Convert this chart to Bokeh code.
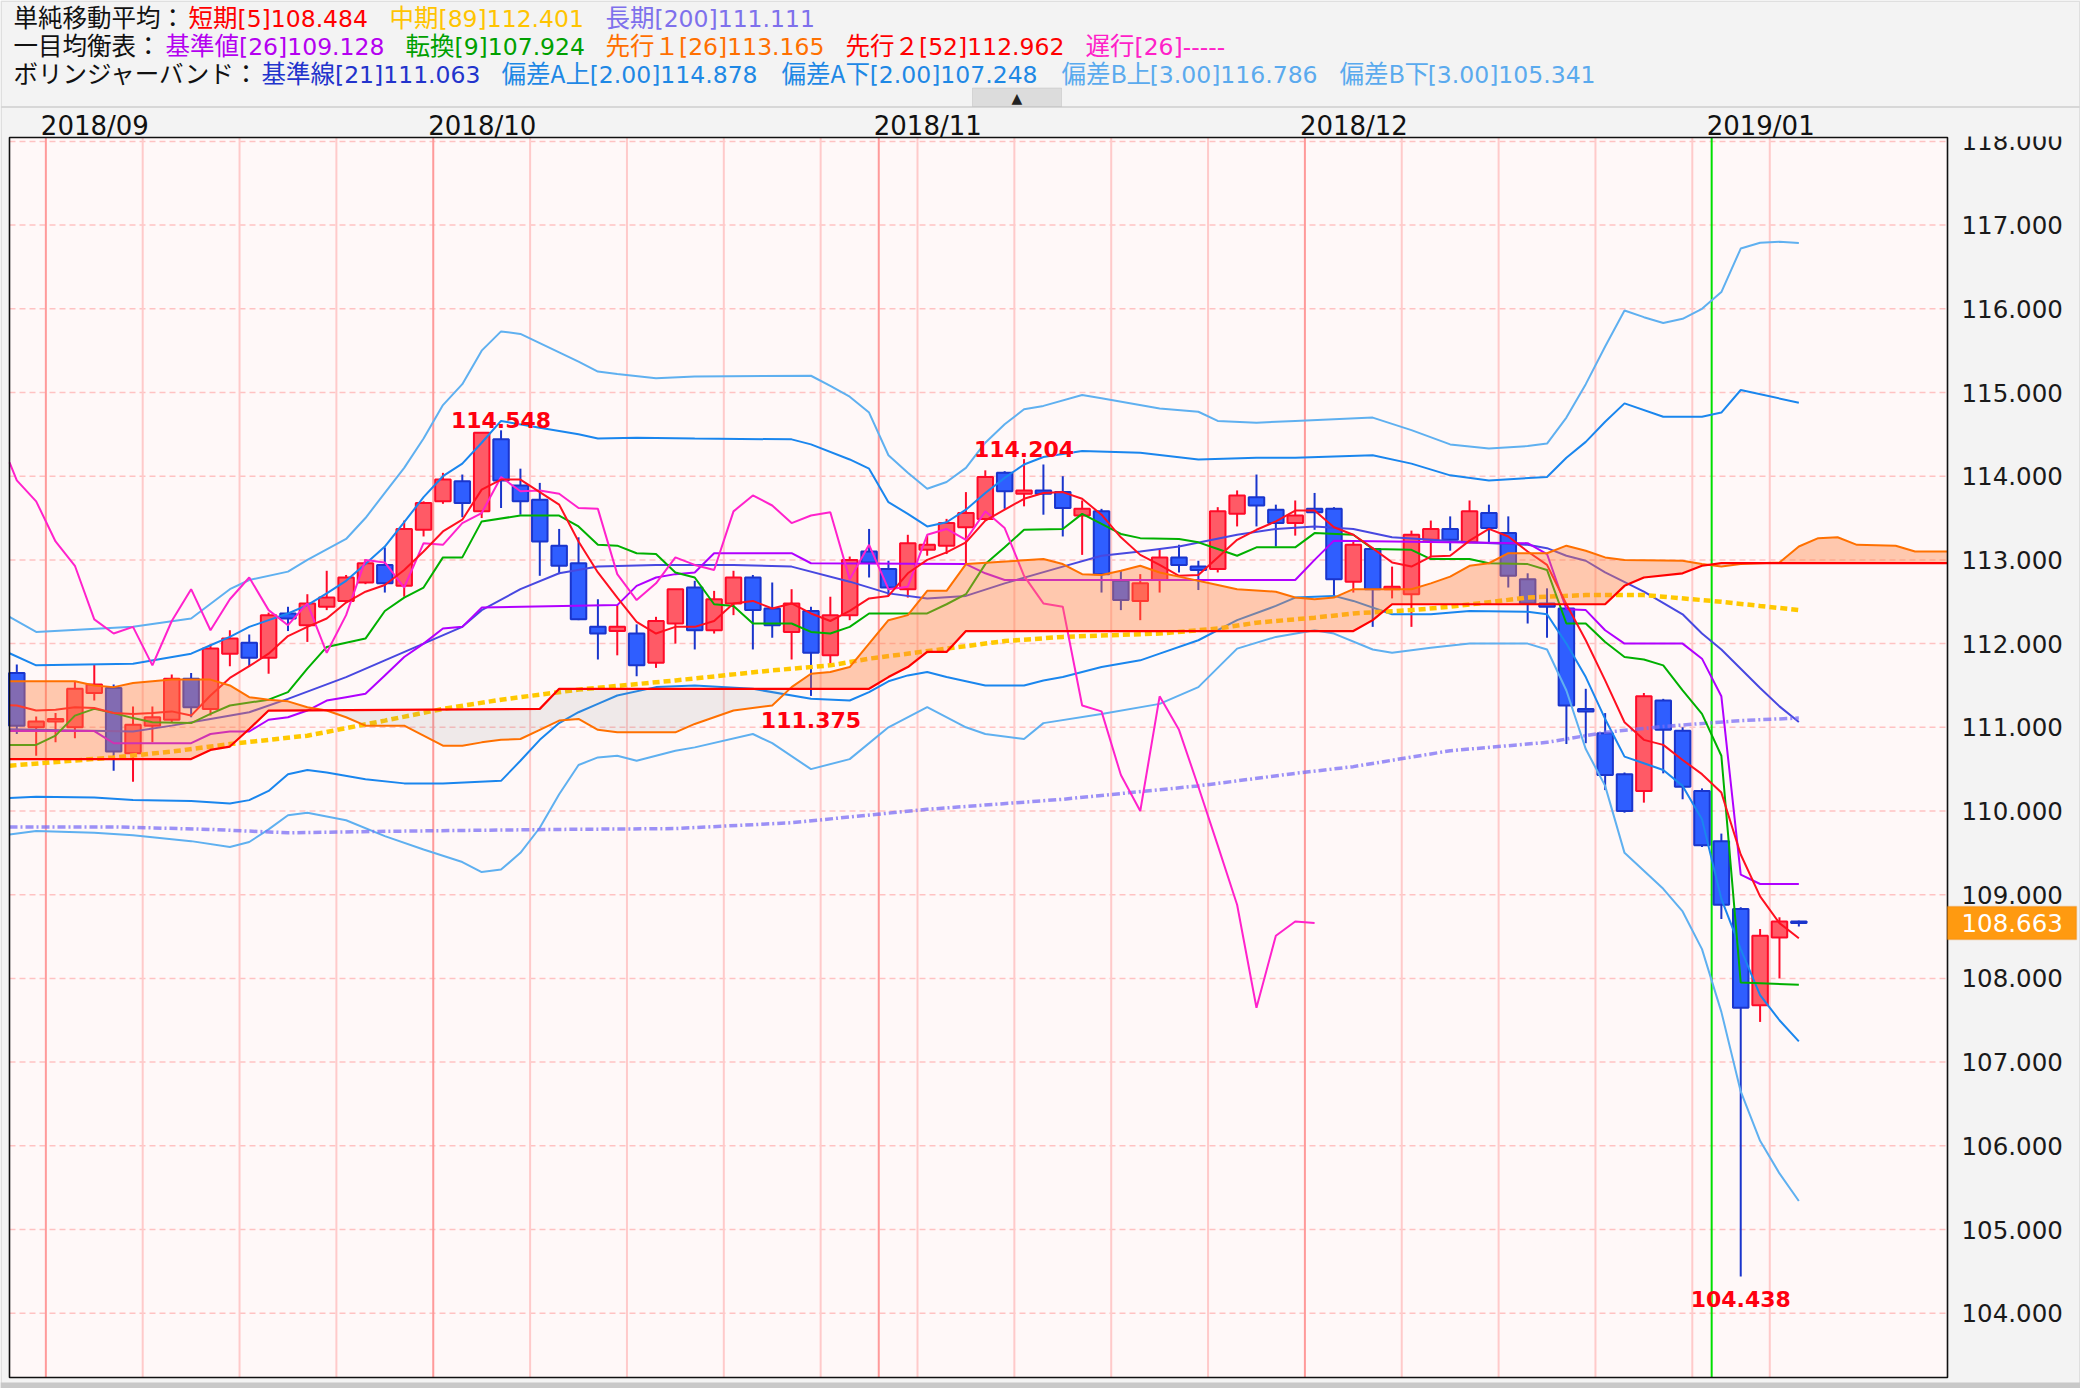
import numpy as np
from bokeh.plotting import figure
from bokeh.models import Range1d, Label, BoxAnnotation
from bokeh.embed import file_html
from bokeh.resources import INLINE

# ---------------- data ----------------
# candle index 0 = 2018/08/30 ... 92 = 2019/01/08
opens = [111.65, 111.00, 111.07, 111.00, 111.41, 111.47, 110.69, 111.02, 111.09, 111.58,
         111.22, 111.88, 112.01, 111.83, 112.36, 112.22, 112.44, 112.51, 112.73, 112.94,
         112.69, 113.36, 113.70, 113.94, 113.58, 114.44, 113.89, 113.72, 113.17, 112.96,
         112.20, 112.15, 112.12, 111.77, 112.24, 112.67, 112.16, 112.48, 112.79, 112.42,
         112.14, 112.39, 111.86, 112.34, 113.10, 112.89, 112.65, 113.12, 113.17, 113.39,
         113.49, 114.04, 113.79, 113.83, 113.81, 113.53, 113.58, 112.75, 112.51, 112.76,
         113.03, 112.92, 112.89, 113.55, 113.75, 113.60, 113.44, 113.61, 113.61, 112.74,
         113.13, 112.65, 112.59, 113.24, 113.37, 113.21, 113.56, 113.32, 112.77, 112.48,
         112.42, 111.22, 110.93, 110.44, 110.24, 111.32, 110.96, 110.24, 109.64, 108.83,
         107.68, 108.49, 108.68]
highs = [111.75, 111.13, 111.17, 111.54, 111.75, 111.51, 111.25, 111.25, 111.63, 111.65,
         111.99, 112.16, 112.11, 112.37, 112.44, 112.59, 112.87, 112.82, 113.01, 113.15,
         113.47, 113.70, 114.04, 114.02, 114.52, 114.548, 114.09, 113.92, 113.37, 113.27,
         112.53, 112.46, 112.23, 112.32, 112.65, 112.75, 112.63, 112.87, 112.82, 112.73,
         112.65, 112.44, 112.56, 113.04, 113.37, 112.99, 113.30, 113.29, 113.49, 113.81,
         114.07, 114.06, 114.204, 114.14, 114.00, 113.71, 113.61, 112.87, 112.83, 113.13,
         113.18, 112.99, 113.63, 113.83, 114.02, 113.66, 113.71, 113.80, 113.63, 113.23,
         113.15, 112.92, 113.35, 113.47, 113.52, 113.71, 113.66, 113.52, 112.84, 112.66,
         112.43, 111.46, 111.17, 110.46, 111.41, 111.34, 111.00, 110.27, 109.73, 108.85,
         108.59, 108.73, 108.69]
lows = [110.92, 110.66, 110.82, 110.87, 111.32, 110.48, 110.35, 110.82, 111.05, 111.12,
        111.14, 111.73, 111.73, 111.64, 112.15, 112.02, 112.40, 112.50, 112.71, 112.61,
        112.56, 113.28, 113.67, 113.51, 113.50, 113.62, 113.54, 112.81, 112.83, 112.28,
        111.81, 111.86, 111.61, 111.71, 112.00, 111.93, 112.12, 112.34, 111.93, 112.07,
        111.81, 111.375, 111.76, 112.28, 112.79, 112.57, 112.55, 113.05, 113.07, 112.95,
        113.47, 113.61, 113.64, 113.54, 113.28, 113.06, 112.61, 112.40, 112.28, 112.61,
        112.85, 112.64, 112.85, 113.40, 113.40, 113.16, 113.29, 113.36, 112.55, 112.61,
        112.20, 112.54, 112.20, 113.03, 113.11, 113.20, 113.21, 112.67, 112.24, 112.07,
        110.80, 110.81, 110.25, 109.98, 110.10, 110.45, 110.14, 109.57, 108.71, 104.438,
        107.48, 108.00, 108.62]
closes = [111.02, 111.07, 111.10, 111.46, 111.51, 110.71, 111.03, 111.12, 111.58, 111.24,
          111.94, 112.06, 111.83, 112.34, 112.30, 112.48, 112.55, 112.79, 112.96, 112.72,
          113.37, 113.68, 113.96, 113.68, 114.52, 113.95, 113.70, 113.22, 112.93, 112.29,
          112.12, 112.20, 111.74, 112.27, 112.65, 112.16, 112.53, 112.79, 112.40, 112.22,
          112.48, 111.89, 112.34, 113.00, 112.97, 112.67, 113.20, 113.18, 113.44, 113.56,
          113.99, 113.82, 113.83, 113.79, 113.62, 113.61, 112.83, 112.52, 112.72, 113.03,
          112.94, 112.88, 113.58, 113.77, 113.65, 113.44, 113.53, 113.57, 112.77, 113.18,
          112.65, 112.68, 113.30, 113.37, 113.24, 113.58, 113.38, 112.81, 112.48, 112.44,
          111.26, 111.19, 110.43, 110.00, 111.37, 110.97, 110.29, 109.59, 108.88, 107.65,
          108.51, 108.68, 108.663]

# 5-day SMA, values for candle index -1 .. 92
sma5 = [111.27, 111.26, 111.20, 111.21, 111.24, 111.23, 111.17, 111.16, 111.17, 111.19,
        111.14, 111.38, 111.59, 111.73, 111.88, 112.09, 112.20, 112.30, 112.49, 112.62,
        112.70, 112.88, 113.10, 113.34, 113.48, 113.84, 113.96, 113.96, 113.81, 113.66,
        113.22, 112.85, 112.55, 112.26, 112.12, 112.20, 112.20, 112.27, 112.48, 112.51,
        112.42, 112.48, 112.36, 112.27, 112.39, 112.54, 112.57, 112.84, 113.00, 113.09,
        113.21, 113.47, 113.60, 113.73, 113.80, 113.81, 113.73, 113.54, 113.27, 113.06,
        112.94, 112.81, 112.82, 113.03, 113.24, 113.36, 113.46, 113.59, 113.59, 113.39,
        113.30, 113.14, 112.97, 112.92, 113.04, 113.05, 113.23, 113.37, 113.28, 113.10,
        112.94, 112.47, 112.04, 111.56, 111.06, 110.85, 110.79, 110.61, 110.44, 110.22,
        109.48, 108.98, 108.66, 108.48]

# polyline vertices (candle index, price)
sma89 = [(-1, 110.53), (5, 110.64), (8, 110.71), (11, 110.80), (15, 110.90), (19, 111.08), (22, 111.22),
         (25, 111.33), (29, 111.45), (34, 111.56), (39, 111.68), (42, 111.74), (44, 111.82), (48, 111.94),
         (51, 112.03), (54, 112.08), (59, 112.12), (62, 112.18), (64, 112.25), (67, 112.31), (69, 112.36),
         (72, 112.40), (74, 112.44), (78, 112.55), (81, 112.58), (84, 112.58), (88, 112.50), (90, 112.45),
         (92, 112.401)]
sma200 = [(-1, 109.81), (5, 109.81), (10, 109.78), (14, 109.74), (20, 109.76), (28, 109.78), (34, 109.79),
          (40, 109.86), (47, 110.02), (54, 110.14), (61, 110.30), (66, 110.45), (69, 110.53), (74, 110.72),
          (79, 110.82), (82, 110.94), (85, 111.01), (89, 111.08), (92, 111.111)]
kijun = [(-1, 110.955), (4, 110.955), (5, 110.81), (9, 110.81), (10, 110.92), (11, 110.95), (12, 110.95),
         (13, 111.09), (14, 111.12), (15, 111.20), (16, 111.32), (17, 111.36), (18, 111.40), (19, 111.62),
         (20, 111.84), (21, 112.00), (22, 112.18), (23, 112.20), (24, 112.43), (31, 112.46), (32, 112.69),
         (33, 112.79), (34, 112.83), (35, 112.85), (36, 113.08), (40, 113.08), (41, 112.96), (49, 112.95),
         (50, 112.84), (51, 112.76), (66, 112.76), (67, 113.00), (68, 113.23), (78, 113.20), (79, 113.07),
         (80, 112.41), (81, 112.40), (82, 112.16), (83, 112.00), (86, 112.00), (87, 111.82), (88, 111.37),
         (89, 109.24), (90, 109.128), (92, 109.128)]
tenkan = [(-1, 110.79), (1, 110.79), (2, 110.90), (3, 111.14), (4, 111.22), (5, 111.17), (6, 111.11),
          (7, 111.06), (9, 111.05), (10, 111.16), (11, 111.26), (13, 111.33), (14, 111.42), (15, 111.70),
          (16, 111.96), (18, 112.06), (19, 112.39), (20, 112.55), (21, 112.67), (22, 113.03), (23, 113.03),
          (24, 113.46), (26, 113.53), (28, 113.53), (29, 113.40), (30, 113.18), (31, 113.17), (32, 113.08),
          (33, 113.07), (34, 112.85), (35, 112.79), (36, 112.47), (37, 112.45), (38, 112.24), (40, 112.24),
          (41, 112.14), (42, 112.12), (43, 112.20), (44, 112.36), (47, 112.36), (48, 112.47), (49, 112.59),
          (50, 112.95), (51, 113.15), (52, 113.36), (54, 113.37), (55, 113.55), (56, 113.43), (57, 113.31),
          (58, 113.26), (60, 113.25), (61, 113.21), (62, 113.13), (63, 113.05), (64, 113.15), (66, 113.15),
          (67, 113.32), (69, 113.30), (70, 113.13), (72, 113.12), (73, 113.01), (75, 113.01), (76, 112.96),
          (78, 112.95), (79, 112.88), (80, 112.24), (81, 112.24), (82, 112.02), (83, 111.84), (84, 111.81),
          (85, 111.74), (86, 111.44), (87, 111.16), (88, 110.66), (89, 107.95), (92, 107.924)]
senkou_a = [(-1, 111.55), (3, 111.55), (4, 111.50), (5, 111.48), (6, 111.53), (8, 111.57), (10, 111.57),
            (11, 111.50), (12, 111.36), (13, 111.33), (14, 111.31), (15, 111.24), (16, 111.20), (17, 111.12),
            (18, 111.02), (20, 111.02), (21, 110.90), (22, 110.78), (23, 110.78), (24, 110.82), (25, 110.85),
            (26, 110.86), (27, 110.97), (28, 111.08), (29, 111.10), (30, 110.97), (31, 110.94), (34, 110.94),
            (35, 111.04), (36, 111.12), (37, 111.20), (39, 111.26), (40, 111.48), (41, 111.64), (42, 111.66),
            (43, 111.72), (44, 112.00), (45, 112.28), (46, 112.34), (47, 112.63), (48, 112.63), (49, 112.95),
            (53, 113.01), (54, 112.95), (55, 112.83), (56, 112.82), (57, 112.87), (58, 112.93), (59, 112.85),
            (60, 112.80), (62, 112.70), (63, 112.65), (65, 112.62), (66, 112.55), (67, 112.53), (68, 112.55),
            (69, 112.65), (72, 112.65), (73, 112.72), (74, 112.80), (75, 112.93), (76, 112.96), (77, 113.08),
            (79, 113.08), (80, 113.17), (81, 113.11), (82, 113.03), (83, 113.00), (86, 112.99), (87, 112.95),
            (88, 112.92), (89, 112.95), (91, 112.97), (92, 113.16), (93, 113.26), (94, 113.27), (95, 113.18),
            (97, 113.17), (98, 113.10), (100, 113.10)]
senkou_b = [(-1, 110.62), (9, 110.62), (10, 110.73), (11, 110.77), (12, 110.98), (13, 111.20), (27, 111.22),
            (28, 111.46), (44, 111.46), (45, 111.60), (46, 111.72), (47, 111.90), (48, 111.90), (49, 112.15),
            (69, 112.15), (70, 112.28), (71, 112.47), (82, 112.47), (83, 112.69), (84, 112.79), (86, 112.84),
            (87, 112.93), (88, 112.962), (100, 112.962)]
bb_mid = [(-1, 110.98), (6, 110.95), (8, 111.02), (10, 111.10), (12, 111.18), (14, 111.34), (17, 111.60),
          (19, 111.80), (21, 112.00), (23, 112.20), (24, 112.40), (26, 112.65), (28, 112.84), (30, 112.92),
          (33, 112.94), (37, 112.94), (40, 112.92), (43, 112.74), (45, 112.60), (47, 112.54), (49, 112.57),
          (51, 112.72), (54, 112.92), (56, 113.05), (58, 113.10), (60, 113.16), (63, 113.30), (65, 113.37),
          (67, 113.40), (69, 113.37), (71, 113.27), (75, 113.21), (78, 113.18), (79, 113.14), (80, 113.05),
          (81, 112.99), (82, 112.85), (84, 112.62), (86, 112.35), (87, 112.12), (88, 111.93), (89, 111.70),
          (90, 111.47), (91, 111.25), (92, 111.063)]
bb_up2 = [(-1, 111.95), (1, 111.74), (6, 111.76), (9, 111.88), (10, 111.98), (11, 112.08), (12, 112.20),
          (13, 112.28), (14, 112.36), (15, 112.46), (16, 112.60), (17, 112.75), (18, 112.95), (19, 113.16),
          (20, 113.45), (21, 113.75), (22, 114.00), (23, 114.15), (24, 114.40), (25, 114.66), (27, 114.58),
          (29, 114.50), (30, 114.45), (32, 114.46), (35, 114.45), (40, 114.44), (41, 114.38), (43, 114.20),
          (44, 114.09), (45, 113.69), (46, 113.55), (47, 113.40), (48, 113.45), (49, 113.60), (50, 113.80),
          (51, 113.98), (52, 114.14), (53, 114.23), (55, 114.30), (58, 114.28), (61, 114.20), (64, 114.22),
          (66, 114.22), (70, 114.25), (72, 114.15), (74, 114.01), (76, 113.95), (79, 113.99), (80, 114.22),
          (81, 114.41), (82, 114.65), (83, 114.87), (85, 114.71), (87, 114.71), (88, 114.76), (89, 115.03),
          (92, 114.878)]
bb_lo2 = [(-1, 110.15), (1, 110.17), (4, 110.16), (6, 110.13), (9, 110.12), (11, 110.09), (12, 110.13),
          (13, 110.24), (14, 110.44), (15, 110.49), (16, 110.46), (18, 110.38), (20, 110.33), (22, 110.33),
          (25, 110.36), (26, 110.60), (27, 110.85), (28, 111.05), (29, 111.18), (30, 111.28), (31, 111.38),
          (33, 111.48), (35, 111.50), (38, 111.46), (41, 111.34), (43, 111.32), (44, 111.42), (45, 111.55),
          (46, 111.62), (47, 111.66), (48, 111.60), (49, 111.55), (50, 111.50), (52, 111.50), (53, 111.56),
          (54, 111.60), (56, 111.72), (58, 111.80), (59, 111.88), (61, 112.04), (63, 112.28), (65, 112.45),
          (66, 112.55), (68, 112.57), (69, 112.51), (71, 112.35), (73, 112.35), (75, 112.39), (78, 112.38),
          (79, 112.35), (80, 112.00), (81, 111.60), (82, 111.10), (83, 110.65), (84, 110.57), (85, 110.49),
          (86, 110.30), (87, 109.90), (88, 108.95), (89, 108.35), (90, 107.80), (91, 107.50), (92, 107.248)]
bb_up3 = [(-1, 112.40), (1, 112.14), (6, 112.20), (9, 112.30), (11, 112.65), (12, 112.76), (14, 112.86),
          (15, 113.00), (17, 113.25), (18, 113.50), (19, 113.80), (20, 114.10), (21, 114.45), (22, 114.85),
          (23, 115.10), (24, 115.50), (25, 115.73), (26, 115.70), (28, 115.48), (29, 115.37), (30, 115.25),
          (31, 115.22), (33, 115.17), (35, 115.19), (41, 115.20), (42, 115.08), (43, 114.95), (44, 114.76),
          (45, 114.25), (46, 114.04), (47, 113.85), (48, 113.93), (49, 114.10), (50, 114.40), (51, 114.62),
          (52, 114.80), (53, 114.84), (55, 114.97), (56, 114.93), (59, 114.81), (61, 114.77), (62, 114.66),
          (64, 114.64), (66, 114.66), (70, 114.70), (72, 114.55), (74, 114.38), (76, 114.33), (78, 114.36),
          (79, 114.39), (80, 114.70), (81, 115.10), (82, 115.55), (83, 115.98), (84, 115.90), (85, 115.83),
          (86, 115.88), (87, 116.00), (88, 116.20), (89, 116.72), (90, 116.79), (91, 116.80), (92, 116.786)]
bb_lo3 = [(-1, 109.70), (1, 109.76), (4, 109.74), (6, 109.71), (9, 109.64), (11, 109.57), (12, 109.63),
          (13, 109.78), (14, 109.95), (15, 109.98), (17, 109.89), (19, 109.70), (21, 109.54), (23, 109.39),
          (24, 109.27), (25, 109.30), (26, 109.50), (27, 109.80), (28, 110.20), (29, 110.55), (30, 110.64),
          (31, 110.66), (32, 110.60), (34, 110.72), (35, 110.76), (38, 110.92), (39, 110.81), (41, 110.50),
          (43, 110.62), (45, 111.00), (47, 111.24), (49, 111.00), (50, 110.92), (52, 110.86), (53, 111.05),
          (56, 111.16), (59, 111.28), (61, 111.48), (63, 111.94), (65, 112.08), (67, 112.16), (68, 112.12),
          (70, 111.93), (71, 111.89), (73, 111.95), (75, 112.00), (78, 112.00), (79, 111.93), (80, 111.44),
          (81, 110.74), (82, 110.30), (83, 109.50), (85, 109.07), (86, 108.80), (87, 108.35), (88, 107.60),
          (89, 106.65), (90, 106.06), (91, 105.67), (92, 105.341)]

CHIKOU_SHIFT = 25
week_lines = [6.5, 11.5, 16.5, 26.5, 31.5, 36.5, 41.5, 46.5, 51.5, 56.5, 61.5, 71.5, 76.5, 81.5, 86.5, 90.5]
month_lines = [1.5, 21.5, 44.5, 66.5]
year_line = [87.5]
month_labels = ["2018/09", "2018/10", "2018/11", "2018/12", "2019/01"]
price_ticks = list(range(104, 119))

header_rows = [
    [("単純移動平均：", "#111111"), ("短期[5]108.484", "#ff0000"), ("中期[89]112.401", "#ffc400"),
     ("長期[200]111.111", "#7e70ec")],
    [("一目均衡表：", "#111111"), ("基準値[26]109.128", "#b400f0"), ("転換[9]107.924", "#00a000"),
     ("先行１[26]113.165", "#ff7000"), ("先行２[52]112.962", "#ff0000"), ("遅行[26]-----", "#ff20c8")],
    [("ボリンジャーバンド：", "#111111"), ("基準線[21]111.063", "#2233cc"), ("偏差A上[2.00]114.878", "#1e88e5"),
     ("偏差A下[2.00]107.248", "#1e88e5"), ("偏差B上[3.00]116.786", "#5aaaee"), ("偏差B下[3.00]105.341", "#5aaaee")],
]
header_x = [[13, 188, 389, 605], [13, 165, 405, 605, 845, 1085], [13, 261, 501, 781, 1061, 1339]]
header_y = [18.6, 46.4, 74.3]

# ---------------- layout helpers (reference pixel -> data) ----------------
PITCH, XC0 = 19.37, 16.3
PPU, YREF = 83.7, 224.6
CANVAS_W, CANVAS_H = 2080, 1388


def dx(rx):
    return (rx - XC0) / PITCH


def dy(ry):
    return 117 - (ry - YREF) / PPU


X0, X1 = dx(9), dx(1947)
Y0, Y1 = dy(1377), dy(137)

p = figure(width=CANVAS_W, height=CANVAS_H, output_backend="svg", toolbar_location=None,
           x_range=Range1d(dx(0), dx(CANVAS_W)), y_range=Range1d(dy(CANVAS_H), dy(0)),
           x_axis_location=None, y_axis_location=None,
           min_border=0, min_border_left=0, min_border_right=0, min_border_top=0, min_border_bottom=0,
           background_fill_color="#f3f3f3", border_fill_color="#f3f3f3", outline_line_color=None)
p.grid.visible = False

# plot area background
p.quad(left=[X0], right=[X1], bottom=[Y0], top=[Y1], fill_color="#fff8f8", line_color=None)

# horizontal dashed grid
p.segment(x0=[X0] * len(price_ticks), y0=price_ticks, x1=[X1] * len(price_ticks), y1=price_ticks,
          line_color="#ffc2c2", line_width=1.5, line_dash="6 4")
# vertical lines
p.segment(x0=week_lines, y0=[Y0] * len(week_lines), x1=week_lines, y1=[Y1] * len(week_lines),
          line_color="#ffcaca", line_width=2)
p.segment(x0=month_lines, y0=[Y0] * len(month_lines), x1=month_lines, y1=[Y1] * len(month_lines),
          line_color="#ff9a9a", line_width=2)
p.segment(x0=year_line, y0=[Y0], x1=year_line, y1=[Y1], line_color="#00e000", line_width=2)

# candles
idx = np.arange(len(closes))
o, h, l, c = map(np.array, (opens, highs, lows, closes))
up = c >= o
wick_col = np.where(up, "#ff0a28", "#1a35cc")
body_fill = np.where(up, "#ff5a66", "#2f5eff")
p.segment(x0=idx, y0=l, x1=idx, y1=h, line_color=list(wick_col), line_width=2)
p.vbar(x=idx, width=0.8, top=np.maximum(o, c), bottom=np.minimum(o, c),
       fill_color=list(body_fill), line_color=list(wick_col), line_width=2)


def xy(pairs):
    return [a for a, _ in pairs], [b for _, b in pairs]


def cut_left(xs_, ys_, xmin):
    xs2 = [xmin] + [v for v in xs_ if v > xmin]
    return xs2, list(np.interp(xs2, xs_, ys_))


def draw(pairs, **kw):
    xs_, ys_ = xy(pairs)
    p.line(*cut_left(xs_, ys_, X0), **kw)


# Bollinger bands
for pairs, col in ((bb_up3, "#5fb0f0"), (bb_lo3, "#5fb0f0"), (bb_up2, "#1a86ee"), (bb_lo2, "#1a86ee")):
    draw(pairs, line_color=col, line_width=2)
draw(bb_mid, line_color="#4848e0", line_width=2)

# moving averages
draw(sma200, line_color="#7b6ef6", line_alpha=0.75, line_width=3.5, line_dash="8 3 2 3")
draw(sma89, line_color="#ffc800", line_width=4.5, line_dash="7 4")

# ichimoku lines
draw(kijun, line_color="#b000ff", line_width=2)
draw(tenkan, line_color="#00b000", line_width=2)
chikou_x = list(idx[CHIKOU_SHIFT - 1:] - CHIKOU_SHIFT)
p.line(*cut_left(chikou_x, list(c[CHIKOU_SHIFT - 1:]), X0), line_color="#ff22cc", line_width=2)
p.line(*cut_left(list(range(-1, -1 + len(sma5))), sma5, X0), line_color="#ff1020", line_width=2)

# cloud (cut at the edges of the plot area)
sa_x, sa_y = xy(senkou_a)
sb_x, sb_y = xy(senkou_b)
grid_x = np.append(np.arange(X0, X1, 0.02), X1)
ga = np.interp(grid_x, sa_x, sa_y)
gb = np.interp(grid_x, sb_x, sb_y)
top = np.maximum(ga, gb)
p.varea(x=grid_x, y1=gb, y2=top, fill_color="#ff7f3f", fill_alpha=0.4)
p.varea(x=grid_x, y1=ga, y2=top, fill_color="#909090", fill_alpha=0.14)


def cut_both(xs_, ys_):
    xs2 = [X0] + [v for v in xs_ if X0 < v < X1] + [X1]
    return xs2, list(np.interp(xs2, xs_, ys_))


p.line(*cut_both(sa_x, sa_y), line_color="#ff7000", line_width=2)
p.line(*cut_both(sb_x, sb_y), line_color="#ff0000", line_width=2.2)

# plot area border
p.quad(left=[X0], right=[X1], bottom=[Y0], top=[Y1], fill_color=None, line_color="#111111", line_width=1.6)

# high / low annotations
for i, txt, off in ((25, "114.548", 10), (52, "114.204", 10), (41, "111.375", -24), (89, "104.438", -22)):
    yv = highs[i] if off > 0 else lows[i]
    p.add_layout(Label(x=i, y=yv, y_offset=off, text=txt, text_align="center", text_baseline="middle",
                       text_color="#ff0010", text_font="DejaVu Sans", text_font_style="bold",
                       text_font_size="22px"))

# ---------------- frame decorations ----------------
# outer boxes
p.add_layout(BoxAnnotation(left=dx(0.75), right=dx(CANVAS_W - 0.75), top=dy(0.75), bottom=dy(106.5),
                           fill_alpha=0, line_color="#b4b4b4", line_width=1.5))
p.add_layout(BoxAnnotation(left=dx(0.75), right=dx(CANVAS_W - 0.75), top=dy(106.5), bottom=dy(CANVAS_H - 0.75),
                           fill_alpha=0, line_color="#b4b4b4", line_width=1.5))
p.add_layout(BoxAnnotation(left=dx(0), right=dx(CANVAS_W), top=dy(1382), bottom=dy(CANVAS_H),
                           fill_color="#c8c8c8", fill_alpha=1, line_color=None))
# small collapse button
p.add_layout(BoxAnnotation(left=dx(972), right=dx(1061), top=dy(87.5), bottom=dy(106),
                           fill_color="#dcdcdc", fill_alpha=1, line_color="#a8a8a8", line_width=1))
p.add_layout(Label(x=dx(1016.5), y=dy(97), text="▲", text_align="center", text_baseline="middle",
                   text_color="#222222", text_font="DejaVu Sans", text_font_size="14px"))

# header texts: CJK prefix in a CJK font, bracketed values in a Latin font
CJK_PX = 24.5
for row, xs_, yy in zip(header_rows, header_x, header_y):
    for (txt, col), xx in zip(row, xs_):
        k = txt.find("[")
        pre, suf = (txt, "") if k < 0 else (txt[:k], txt[k:])
        p.add_layout(Label(x=dx(xx), y=dy(yy - 2.5), text=pre, text_color=col, text_align="left",
                           text_baseline="middle", text_font="Noto Sans CJK JP",
                           text_font_size=f"{CJK_PX}px"))
        if suf:
            w = sum(CJK_PX if ord(ch) > 0x2000 else 0.6 * CJK_PX for ch in pre)
            p.add_layout(Label(x=dx(xx + w), y=dy(yy), text=suf, text_color=col, text_align="left",
                               text_baseline="middle", text_font="DejaVu Sans", text_font_size="23.5px"))

# month labels (top band)
for lab, mx in zip(month_labels, month_lines + year_line):
    p.add_layout(Label(x=mx, y=dy(125.5), x_offset=-5, text=lab, text_align="left", text_baseline="middle",
                       text_color="#111111", text_font="DejaVu Sans", text_font_size="26px"))

# right price labels
for v in price_ticks:
    p.add_layout(Label(x=dx(1961), y=v, text=f"{v:.3f}", text_align="left", text_baseline="middle",
                       text_color="#1a1a1a", text_font="DejaVu Sans", text_font_size="24.5px"))
p.add_layout(BoxAnnotation(left=dx(1948), right=dx(CANVAS_W - 1.5), top=dy(107.5), bottom=dy(136),
                           fill_color="#f3f3f3", fill_alpha=1, line_color=None, level="overlay"))

# current price box
last = closes[-1]
p.add_layout(BoxAnnotation(left=dx(1947), right=dx(2076), top=last + 16.5 / PPU, bottom=last - 16.5 / PPU,
                           fill_color="#ff9a10", fill_alpha=1, line_color="#e87a00", line_width=1.5))
p.add_layout(Label(x=dx(1961), y=last, text=f"{last:.3f}", text_align="left", text_baseline="middle",
                   text_color="white", text_font="DejaVu Sans", text_font_size="24.5px"))

open("out.html", "w").write(file_html(p, INLINE))
